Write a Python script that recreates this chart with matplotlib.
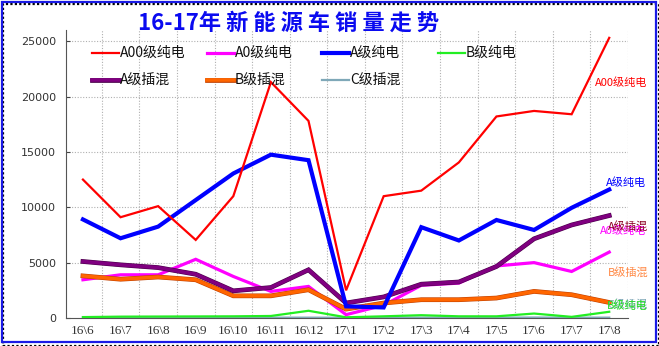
import matplotlib
matplotlib.use("Agg")
import matplotlib.pyplot as plt
import matplotlib.patheffects as pe
from matplotlib.patches import Rectangle
from matplotlib.lines import Line2D

plt.rcParams["font.family"] = ["Noto Sans CJK SC", "DejaVu Sans"]

months = ["16\\6", "16\\7", "16\\8", "16\\9", "16\\10", "16\\11", "16\\12",
          "17\\1", "17\\2", "17\\3", "17\\4", "17\\5", "17\\6", "17\\7", "17\\8"]

a00_ev = [12500, 9100, 10100, 7050, 11000, 21300, 17800,
          2500, 11000, 11500, 14050, 18200, 18700, 18400, 25300]
a0_ev = [3450, 3900, 3900, 5300, 3750, 2400, 2850,
         300, 1150, 2950, 3150, 4700, 5000, 4200, 5950]
a_ev = [8900, 7200, 8250, 10650, 13050, 14750, 14250,
        1050, 950, 8200, 7000, 8850, 7950, 9950, 11600]
b_ev = [80, 120, 130, 140, 150, 180, 650,
        60, 150, 250, 150, 150, 400, 100, 560]
a_phev = [5100, 4800, 4550, 3950, 2450, 2750, 4350,
          1350, 1900, 3050, 3250, 4650, 7150, 8400, 9250]
b_phev = [3800, 3500, 3700, 3450, 2000, 2000, 2550,
          800, 1350, 1650, 1650, 1800, 2400, 2100, 1400]
c_phev = [60, 40, 30, 30, 30, 30, 30,
          20, 20, 30, 30, 30, 40, 30, 30]

# name, values, line colour, width, end-label colour, end-label (dx, y)
series = [
    ("C级插混", c_phev, "#7FA8B8", 1.6, "#7FA8B8", (-0.05, 1250)),
    ("B级纯电", b_ev, "#22EE22", 1.6, "#22DD22", (-0.05, 1150)),
    ("A0级纯电", a0_ev, "#FF00FF", 2.3, "#FF00FF", (-0.25, 7850)),
    ("B级插混", b_phev, "#FF6600", 2.6, "#FF8844", (-0.03, 4150)),
    ("A级插混", a_phev, "#800080", 2.6, "#8B0022", (-0.03, 8250)),
    ("A级纯电", a_ev, "#0000FF", 3.0, "#0000FF", (-0.1, 12200)),
    ("A00级纯电", a00_ev, "#FF0000", 1.6, "#FF0000", (-0.37, 21250)),
]

fig = plt.figure(figsize=(6.59, 3.46), dpi=100)
ax = fig.add_axes([0.1002, 0.081, 0.8528, 0.832])

x = list(range(len(months)))
styles = {}
for name, vals, col, lw, lcol, (dx, ly) in series:
    effects = None
    if name in ("A级插混", "B级插混"):
        edge = "#4A004A" if name == "A级插混" else "#C04000"
        effects = [pe.Stroke(linewidth=lw + 0.8, foreground=edge), pe.Normal()]
    ax.plot(x, vals, color=col, lw=lw, solid_joinstyle="miter",
            path_effects=effects, zorder=3)
    styles[name] = (col, lw, effects)
    ax.text(x[-1] + dx, ly, name, color=lcol, fontsize=8,
            ha="left", va="center", clip_on=False, zorder=5)

ax.set_xlim(-0.45, len(months) - 0.5)
ax.set_ylim(0, 26000)
ax.set_xticks(x)
ax.set_xticklabels(months, family="Liberation Serif", fontsize=9.5, color="#333333")
ax.set_yticks(range(0, 26000, 5000))
ax.set_yticklabels([str(v) for v in range(0, 26000, 5000)],
                   family="DejaVu Sans", fontsize=8, color="#333333")
ax.tick_params(axis="y", direction="in", length=3, pad=7, color="#444444")
ax.tick_params(axis="x", length=0, pad=5)

# dotted grid: horizontal at major ticks, vertical between categories
for v in range(5000, 26000, 5000):
    ax.axhline(v, color="#B0B0B0", lw=0.8, ls=(0, (1, 1.5)), zorder=1)
for b in range(1, len(months) + 1):
    ax.axvline(b - 0.5, color="#B0B0B0", lw=0.8, ls=(0, (1, 1.5)), zorder=1)

for s in ("top", "right"):
    ax.spines[s].set_visible(False)
ax.spines["left"].set_color("#555555")
ax.spines["bottom"].set_color("#555555")

# legend laid out as a fixed 4-column grid
W, H = 659, 346
rows = [["A00级纯电", "A0级纯电", "A级纯电", "B级纯电"],
        ["A级插混", "B级插混", "C级插混"]]
col_x = [92, 207, 322, 438]
row_y = [53, 80]
for r, names in enumerate(rows):
    for c, name in enumerate(names):
        col, lw, effects = styles[name]
        x0, y0 = col_x[c], row_y[r]
        fig.add_artist(Line2D([x0 / W, (x0 + 27) / W], [1 - y0 / H, 1 - y0 / H],
                              color=col, lw=lw, path_effects=effects,
                              transform=fig.transFigure))
        fig.text((x0 + 28) / W, 1 - y0 / H, name, fontsize=10, color="#111111",
                 ha="left", va="center")

fig.text(0.4385, 0.934, "16-17年 新 能 源 车 销 量 走 势", color="#0A0AF0",
         fontsize=16, fontweight="bold", ha="center", va="center")

# framed border with drop shadow
fig.add_artist(Rectangle((3 / W, 0), 656 / W, 343 / H - 0.002,
                         transform=fig.transFigure, fill=False,
                         edgecolor="black", lw=1.6, ls=(0, (1, 1))))
fig.add_artist(Rectangle((1.5 / W, 4.5 / H), 654 / W, 340 / H,
                         transform=fig.transFigure, fill=True,
                         facecolor="none", edgecolor="#1A1AE6", lw=1.6))

fig.savefig("out.png", dpi=100, facecolor="white")
